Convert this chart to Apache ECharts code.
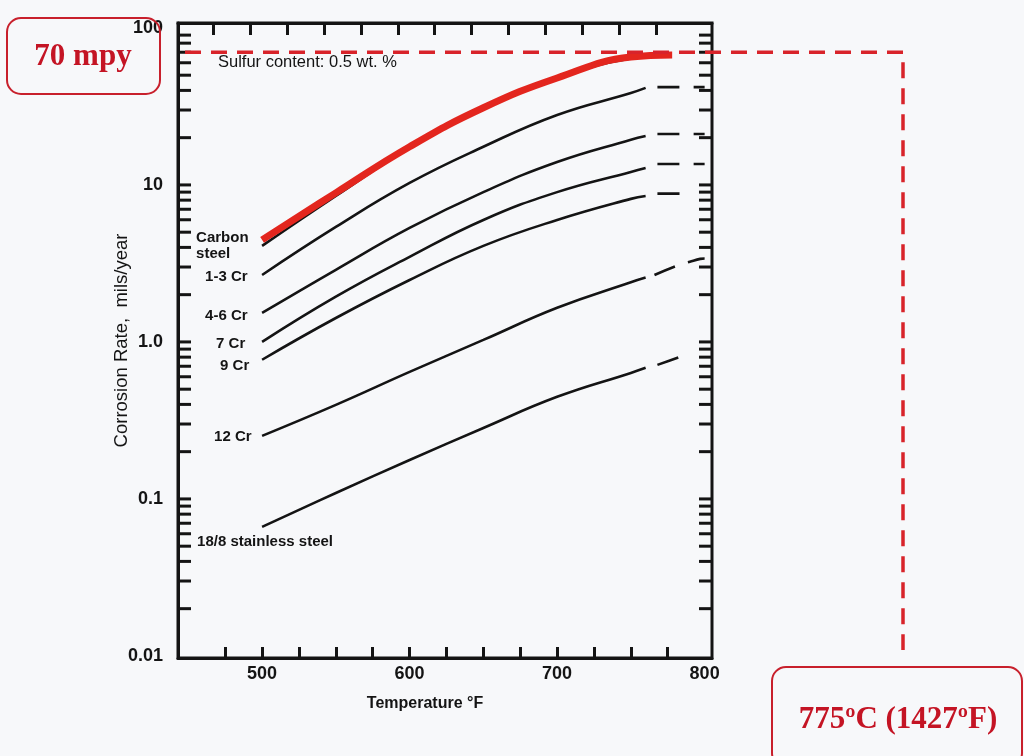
<!DOCTYPE html>
<html><head><meta charset="utf-8">
<script src="https://cdn.jsdelivr.net/npm/echarts@6/dist/echarts.min.js"></script>
<style>html,body{margin:0;padding:0;background:#f7f8fa}#c{width:1024px;height:756px}</style>
</head><body><div id="c"></div>
<script>
// ---- data ----
const temps = [500, 550, 600, 650, 700, 750, 760];
const carbonSteel = [4.09, 8.5, 17.2, 30.5, 47.5, 64, 65];
const cr1_3 = [2.67, 5.4, 10.3, 17.5, 27.9, 38.5, 41.5];
const cr4_6 = [1.53, 2.88, 5.32, 9.0, 14.0, 19.4, 20.5];
const cr7 = [1.0, 1.94, 3.48, 5.98, 9.0, 12.1, 12.8];
const cr9 = [0.77, 1.42, 2.48, 4.09, 5.98, 8.15, 8.5];
const cr12 = [0.252, 0.397, 0.644, 1.03, 1.65, 2.4, 2.57];
const ss188 = [0.0664, 0.109, 0.177, 0.283, 0.447, 0.635, 0.684];

// red highlighted carbon-steel curve
const highlightTemps = [500, 550, 600, 650, 700, 750, 778];
const highlightRates = [4.47, 8.9, 17.5, 31, 48, 65.3, 67.3];

// dashed extrapolations
const ext1_3T = [768, 800], ext1_3V = [42, 42];
const ext4_6T = [768, 800], ext4_6V = [21.1, 21.1];
const ext7T = [768, 800], ext7V = [13.6, 13.6];
const ext9T = [768, 783], ext9V = [8.8, 8.8];
const ext12T = [766, 783, 790, 797, 800], ext12V = [2.67, 3.1, 3.24, 3.38, 3.4];
const ext188T = [768, 783], ext188V = [0.714, 0.80];

const curveLabels = ['Carbon\nsteel', '1-3 Cr', '4-6 Cr', '7 Cr', '9 Cr', '12 Cr', '18/8 stainless steel'];

const thresholdRate = 70;     // mpy
const X_MIN = 443, X_MAX = 805;
const Y_MIN = 0.0097, Y_MAX = 107.5;
const xTickValues = [475, 500, 525, 550, 575, 600, 625, 650, 675, 700, 725, 750, 775];
const xLabelValues = [500, 600, 700, 800];
const topTickValues = [467, 492, 517, 542, 567, 592, 617, 642, 667, 692, 717, 742, 767];
const yTickLabels = ['0.01', '0.1', '1.0', '10', '100'];
const decades = [0.01, 0.1, 1, 10];
const minorMultipliers = [2, 3, 4, 5, 6, 7, 8, 9];

// ---- build ----
const INK = '#141414';
const SANS = '"Liberation Sans", Arial, Helvetica, sans-serif';
const SERIF = '"Liberation Serif", "Times New Roman", serif';

const yTicks = [];
decades.forEach(d => {
  if (d > 0.01) yTicks.push(d);
  minorMultipliers.forEach(m => yTicks.push(+(d * m).toPrecision(3)));
});

function pairs(xs, ys) { return xs.map((x, i) => [x, ys[i]]); }

function solidSeries(name, vals, labelText, pos) {
  return {
    type: 'line', name: name, smooth: 0.45, symbol: 'circle', symbolSize: 0, showSymbol: true,
    silent: true, z: 3,
    lineStyle: { color: INK, width: 2.6 }, itemStyle: { color: INK },
    data: temps.map((t, i) => i === 0 ? {
      value: [t, vals[i]],
      label: { show: true, formatter: labelText, position: pos, align: 'left', verticalAlign: 'middle',
        fontSize: 15, fontWeight: 'bold', color: INK, fontFamily: SANS, lineHeight: 16 }
    } : [t, vals[i]])
  };
}
function extSeries(name, xs, ys) {
  return {
    type: 'line', name: name + ' (extrapolated)', smooth: 0.4, symbol: 'none', silent: true, z: 3,
    lineStyle: { color: INK, width: 2.6, type: [22, 14] },
    data: pairs(xs, ys)
  };
}

const series = [
  solidSeries('Carbon steel', carbonSteel, curveLabels[0], [-66, 0]),
  solidSeries('1-3 Cr', cr1_3, curveLabels[1], [-57, 2]),
  solidSeries('4-6 Cr', cr4_6, curveLabels[2], [-57, 3]),
  solidSeries('7 Cr', cr7, curveLabels[3], [-46, 2]),
  solidSeries('9 Cr', cr9, curveLabels[4], [-42, 6]),
  solidSeries('12 Cr', cr12, curveLabels[5], [-48, 1]),
  solidSeries('18/8 stainless steel', ss188, curveLabels[6], [-65, 15]),
  extSeries('1-3 Cr', ext1_3T, ext1_3V),
  extSeries('4-6 Cr', ext4_6T, ext4_6V),
  extSeries('7 Cr', ext7T, ext7V),
  extSeries('9 Cr', ext9T, ext9V),
  extSeries('12 Cr', ext12T, ext12V),
  extSeries('18/8', ext188T, ext188V),
  {
    type: 'line', name: 'Carbon steel (highlight)', smooth: 0.45, symbol: 'none', silent: true, z: 6,
    lineStyle: { color: '#e3261e', width: 7, cap: 'butt' },
    data: pairs(highlightTemps, highlightRates)
  },
  {
    type: 'custom', name: 'log ticks', silent: true, z: 4, clip: false,
    data: yTicks.map(v => [X_MIN, v]),
    renderItem: function (params, api) {
      const v = api.value(1);
      const pL = api.coord([X_MIN, v]);
      const pR = api.coord([X_MAX, v]);
      const len = 13;
      return {
        type: 'group', children: [
          { type: 'line', shape: { x1: pL[0], y1: pL[1], x2: pL[0] + len, y2: pL[1] }, style: { stroke: INK, lineWidth: 3 } },
          { type: 'line', shape: { x1: pR[0] - len, y1: pR[1], x2: pR[0], y2: pR[1] }, style: { stroke: INK, lineWidth: 3 } }
        ]
      };
    }
  }
];

const chart = echarts.init(document.getElementById('c'), null, { renderer: 'canvas' });
chart.setOption({
  animation: false,
  backgroundColor: '#f7f8fa',
  grid: { left: 178, right: 312, top: 23, bottom: 98, show: true, borderColor: INK, borderWidth: 3, backgroundColor: 'transparent' },
  xAxis: [{
    type: 'value', min: X_MIN, max: X_MAX, position: 'bottom',
    name: 'Temperature °F', nameLocation: 'middle', nameGap: 38, nameMoveOverlap: false,
    nameTextStyle: { fontSize: 16, fontWeight: 'bold', color: INK, fontFamily: SANS, padding: [0, 40, 0, 0] },
    axisLine: { show: true, lineStyle: { color: INK, width: 3 } },
    axisTick: { show: true, inside: true, length: 11, customValues: xTickValues, lineStyle: { color: INK, width: 3 } },
    axisLabel: { customValues: xLabelValues, fontSize: 18, fontWeight: 'bold', color: INK, fontFamily: SANS, margin: 7 },
    splitLine: { show: false }
  }, {
    type: 'value', min: X_MIN, max: X_MAX, position: 'top',
    axisLine: { show: true, lineStyle: { color: INK, width: 3 } },
    axisTick: { show: true, inside: true, length: 12, customValues: topTickValues, lineStyle: { color: INK, width: 3 } },
    axisLabel: { show: false },
    splitLine: { show: false }
  }],
  yAxis: {
    type: 'log', logBase: 10, min: Y_MIN, max: Y_MAX,
    name: 'Corrosion Rate,  mils/year', nameLocation: 'middle', nameGap: 47, nameMoveOverlap: false,
    nameTextStyle: { fontSize: 18.5, color: INK, fontFamily: SANS },
    axisLine: { show: true, lineStyle: { color: INK, width: 3 } },
    axisTick: { show: false },
    axisLabel: {
      fontSize: 18, fontWeight: 'bold', color: INK, fontFamily: SANS, margin: 15,
      showMinLabel: false, showMaxLabel: false,
      formatter: v => yTickLabels[Math.round(Math.log10(v)) + 2]
    },
    splitLine: { show: false }
  },
  series: series
});

// ---- annotations ----
const y70 = chart.convertToPixel({ yAxisIndex: 0 }, thresholdRate);
const xLeft = chart.convertToPixel({ xAxisIndex: 0 }, X_MIN);
const RED = '#c8202c';
chart.setOption({
  graphic: [
    { type: 'text', x: 218, y: 62, z: 50, style: { text: 'Sulfur content: 0.5 wt. %', fontSize: 16.5, fontFamily: SANS, fill: INK, verticalAlign: 'middle' } },
    { type: 'polyline', z: 60, shape: { points: [[xLeft + 7, y70], [903, y70], [903, 650]] },
      style: { stroke: '#d8232a', lineWidth: 3.5, lineDash: [16, 10], fill: null } },
    { type: 'rect', z: 60, shape: { x: 7, y: 18, width: 153, height: 76, r: 14 }, style: { fill: 'none', stroke: RED, lineWidth: 2 } },
    { type: 'text', z: 61, x: 83, y: 57, style: { text: '70 mpy', fontSize: 31, fontWeight: 'bold', fontFamily: SERIF, fill: '#c41424', align: 'center', verticalAlign: 'middle' } },
    { type: 'rect', z: 60, shape: { x: 772, y: 667, width: 250, height: 100, r: 14 }, style: { fill: 'none', stroke: RED, lineWidth: 2 } },
    { type: 'text', z: 61, x: 898, y: 720, style: { text: '775ºC (1427ºF)', fontSize: 31, fontWeight: 'bold', fontFamily: SERIF, fill: '#c41424', align: 'center', verticalAlign: 'middle' } }
  ]
});
</script>
</body></html>
